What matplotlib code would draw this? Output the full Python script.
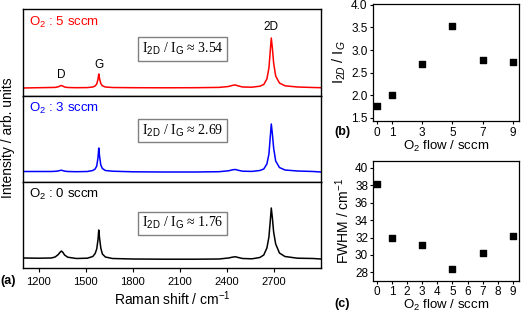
import matplotlib
matplotlib.use("Agg")
import matplotlib.pyplot as plt

plt.rcParams['font.family'] = ['Liberation Sans', 'DejaVu Sans']
plt.rcParams['mathtext.fontset'] = 'custom'
plt.rcParams['mathtext.rm'] = 'Liberation Sans'
plt.rcParams['mathtext.it'] = 'Liberation Sans:italic'
plt.rcParams['mathtext.bf'] = 'Liberation Sans:bold'

# Raman spectra (intensity above baseline, arb. units)
shift = [1100, 1200, 1280, 1305, 1325, 1335, 1345, 1355, 1365, 1385, 1440, 1510,
         1545, 1560, 1570, 1578, 1583, 1588, 1596, 1606, 1625, 1670, 1800, 2000,
         2200, 2350, 2410, 2440, 2455, 2470, 2500, 2560, 2610, 2635, 2655, 2668,
         2676, 2683, 2690, 2698, 2711, 2735, 2770, 2850, 2950, 3000]
int_5sccm = [0.0, 0.3, 0.5, 0.6, 1.2, 2.0, 2.5, 1.8, 1.0, 0.5, 0.3, 0.4,
             1.0, 2.0, 4.0, 8.5, 14, 9.5, 4.5, 2.2, 1.0, 0.5, 0.3, 0.2,
             0.3, 0.6, 1.5, 2.8, 3.0, 2.2, 1.0, 0.8, 1.8, 3.5, 9, 20,
             36, 50, 40, 25, 12, 5, 2.2, 1.0, 0.5, 0.3]
int_3sccm = [0.5, 0.5, 0.5, 0.7, 1.0, 1.5, 1.8, 1.3, 0.9, 0.5, 0.3, 0.5,
             1.5, 3.0, 6.0, 14, 24, 16, 7, 3.5, 1.5, 0.8, 0.2, 0.0,
             0.0, 0.3, 1.2, 2.3, 2.5, 1.8, 0.8, 0.6, 1.5, 3, 8, 18,
             34, 48, 38, 24, 11, 4.5, 2.0, 1.0, 0.5, 0.0]
int_0sccm = [2.0, 1.8, 2.0, 3.0, 5.5, 7.5, 9.0, 7.5, 5.0, 2.8, 1.5, 1.8,
             3.5, 6.5, 11, 20, 30, 22, 12, 6, 3, 1.5, 1.0, 0.8,
             0.8, 1.0, 2.0, 3.0, 3.2, 2.6, 1.5, 1.2, 2.5, 5, 12, 23,
             38, 52, 42, 28, 16, 7, 3.5, 1.8, 1.5, 1.0]
spec_labels = ["5", "3", "0"]
spec_colors = ["red", "blue", "black"]
ratio_text = ["3.54", "2.69", "1.76"]

# (b) and (c)
flow = [0, 1, 3, 5, 7, 9]
ratio = [1.76, 2.01, 2.69, 3.54, 2.79, 2.74]
fwhm = [38.1, 32.0, 31.1, 28.4, 30.2, 32.2]

W, H = 522, 314
fig = plt.figure(figsize=(W / 100, H / 100), dpi=100)


def rect(x0, y0, x1, y1):
    return [x0 / W, 1 - y1 / H, (x1 - x0) / W, (y1 - y0) / H]


panel_px = [(9, 96), (96, 182), (182, 268)]
box_y = [0.54, 0.60, 0.52]
spectra = [int_5sccm, int_3sccm, int_0sccm]
ylims = [(-8, 79), (-10, 76), (-8, 78)]

axes_a = []
for i, (y0, y1) in enumerate(panel_px):
    ax = fig.add_axes(rect(23, y0, 321, y1))
    ax.plot(shift, spectra[i], color=spec_colors[i], lw=1.1)
    ax.set_xlim(1100, 3000)
    ax.set_ylim(*ylims[i])
    ax.set_yticks([])
    ax.set_xticks([1200, 1500, 1800, 2100, 2400, 2700])
    ax.tick_params(axis='x', direction='out', length=3, labelsize=8)
    for s in ax.spines.values():
        s.set_linewidth(1.0)
    if i < 2:
        ax.tick_params(axis='x', length=0, labelbottom=False)
    ax.text(0.02, 0.85, r"O$_2$ : " + spec_labels[i] + " sccm", transform=ax.transAxes,
            color=spec_colors[i], fontsize=9.5, va='center', ha='left')
    ax.text(0.535, box_y[i], r"I$_{\rm 2D}$ / I$_{\rm G}$ ≈ " + ratio_text[i],
            transform=ax.transAxes, family=['Liberation Serif', 'DejaVu Serif'],
            fontsize=10, ha='center', va='center',
            bbox=dict(boxstyle='square,pad=0.25', fc='white', ec='#808080', lw=1.0))
    axes_a.append(ax)

axes_a[0].text(1343, 13, "D", fontsize=8.5, ha='center', va='center')
axes_a[0].text(1583, 23, "G", fontsize=8.5, ha='center', va='center')
axes_a[0].text(2683, 61, "2D", fontsize=8.5, ha='center', va='center')
axes_a[2].set_xlabel(r"Raman shift / cm$^{-1}$", fontsize=10, labelpad=2)
fig.text(8 / W, 1 - 138 / H, "Intensity / arb. units", rotation=90, fontsize=10,
         ha='center', va='center')
fig.text(8 / W, 1 - 281 / H, "(a)", fontsize=9, fontweight='bold', ha='center', va='center')

# (b)
axb = fig.add_axes(rect(373, 4, 519, 121))
axb.scatter(flow, ratio, marker='s', s=20, color='black', zorder=3)
axb.set_xlim(-0.26, 9.4)
axb.set_ylim(1.43, 4.02)
axb.set_xticks(flow)
axb.set_yticks([1.5, 2.0, 2.5, 3.0, 3.5, 4.0])
axb.set_yticklabels(["1.5", "2.0", "2.5", "3.0", "3.5", "4.0"])
axb.tick_params(direction='out', length=2.5, labelsize=8.5, pad=1.5)
axb.set_xlabel(r"O$_2$ flow / sccm", fontsize=9.5, labelpad=0)
axb.set_ylabel(r"I$_{2D}$ / I$_G$", fontsize=10.5, labelpad=2)
for s in axb.spines.values():
    s.set_linewidth(0.9)
fig.text(342 / W, 1 - 132 / H, "(b)", fontsize=9, fontweight='bold', ha='center', va='center')

# (c)
axc = fig.add_axes(rect(373, 161, 519, 281))
axc.scatter(flow, fwhm, marker='s', s=20, color='black', zorder=3)
axc.set_xlim(-0.26, 9.4)
axc.set_ylim(27, 40.8)
axc.set_xticks(range(10))
axc.set_yticks([28, 30, 32, 34, 36, 38, 40])
axc.tick_params(direction='out', length=2.5, labelsize=8.5, pad=1)
axc.set_xlabel(r"O$_2$ flow / sccm", fontsize=9.5, labelpad=0)
axc.set_ylabel(r"FWHM / cm$^{-1}$", fontsize=10, labelpad=2)
for s in axc.spines.values():
    s.set_linewidth(0.9)
fig.text(342 / W, 1 - 304 / H, "(c)", fontsize=9, fontweight='bold', ha='center', va='center')

fig.savefig("out.png", dpi=100)
